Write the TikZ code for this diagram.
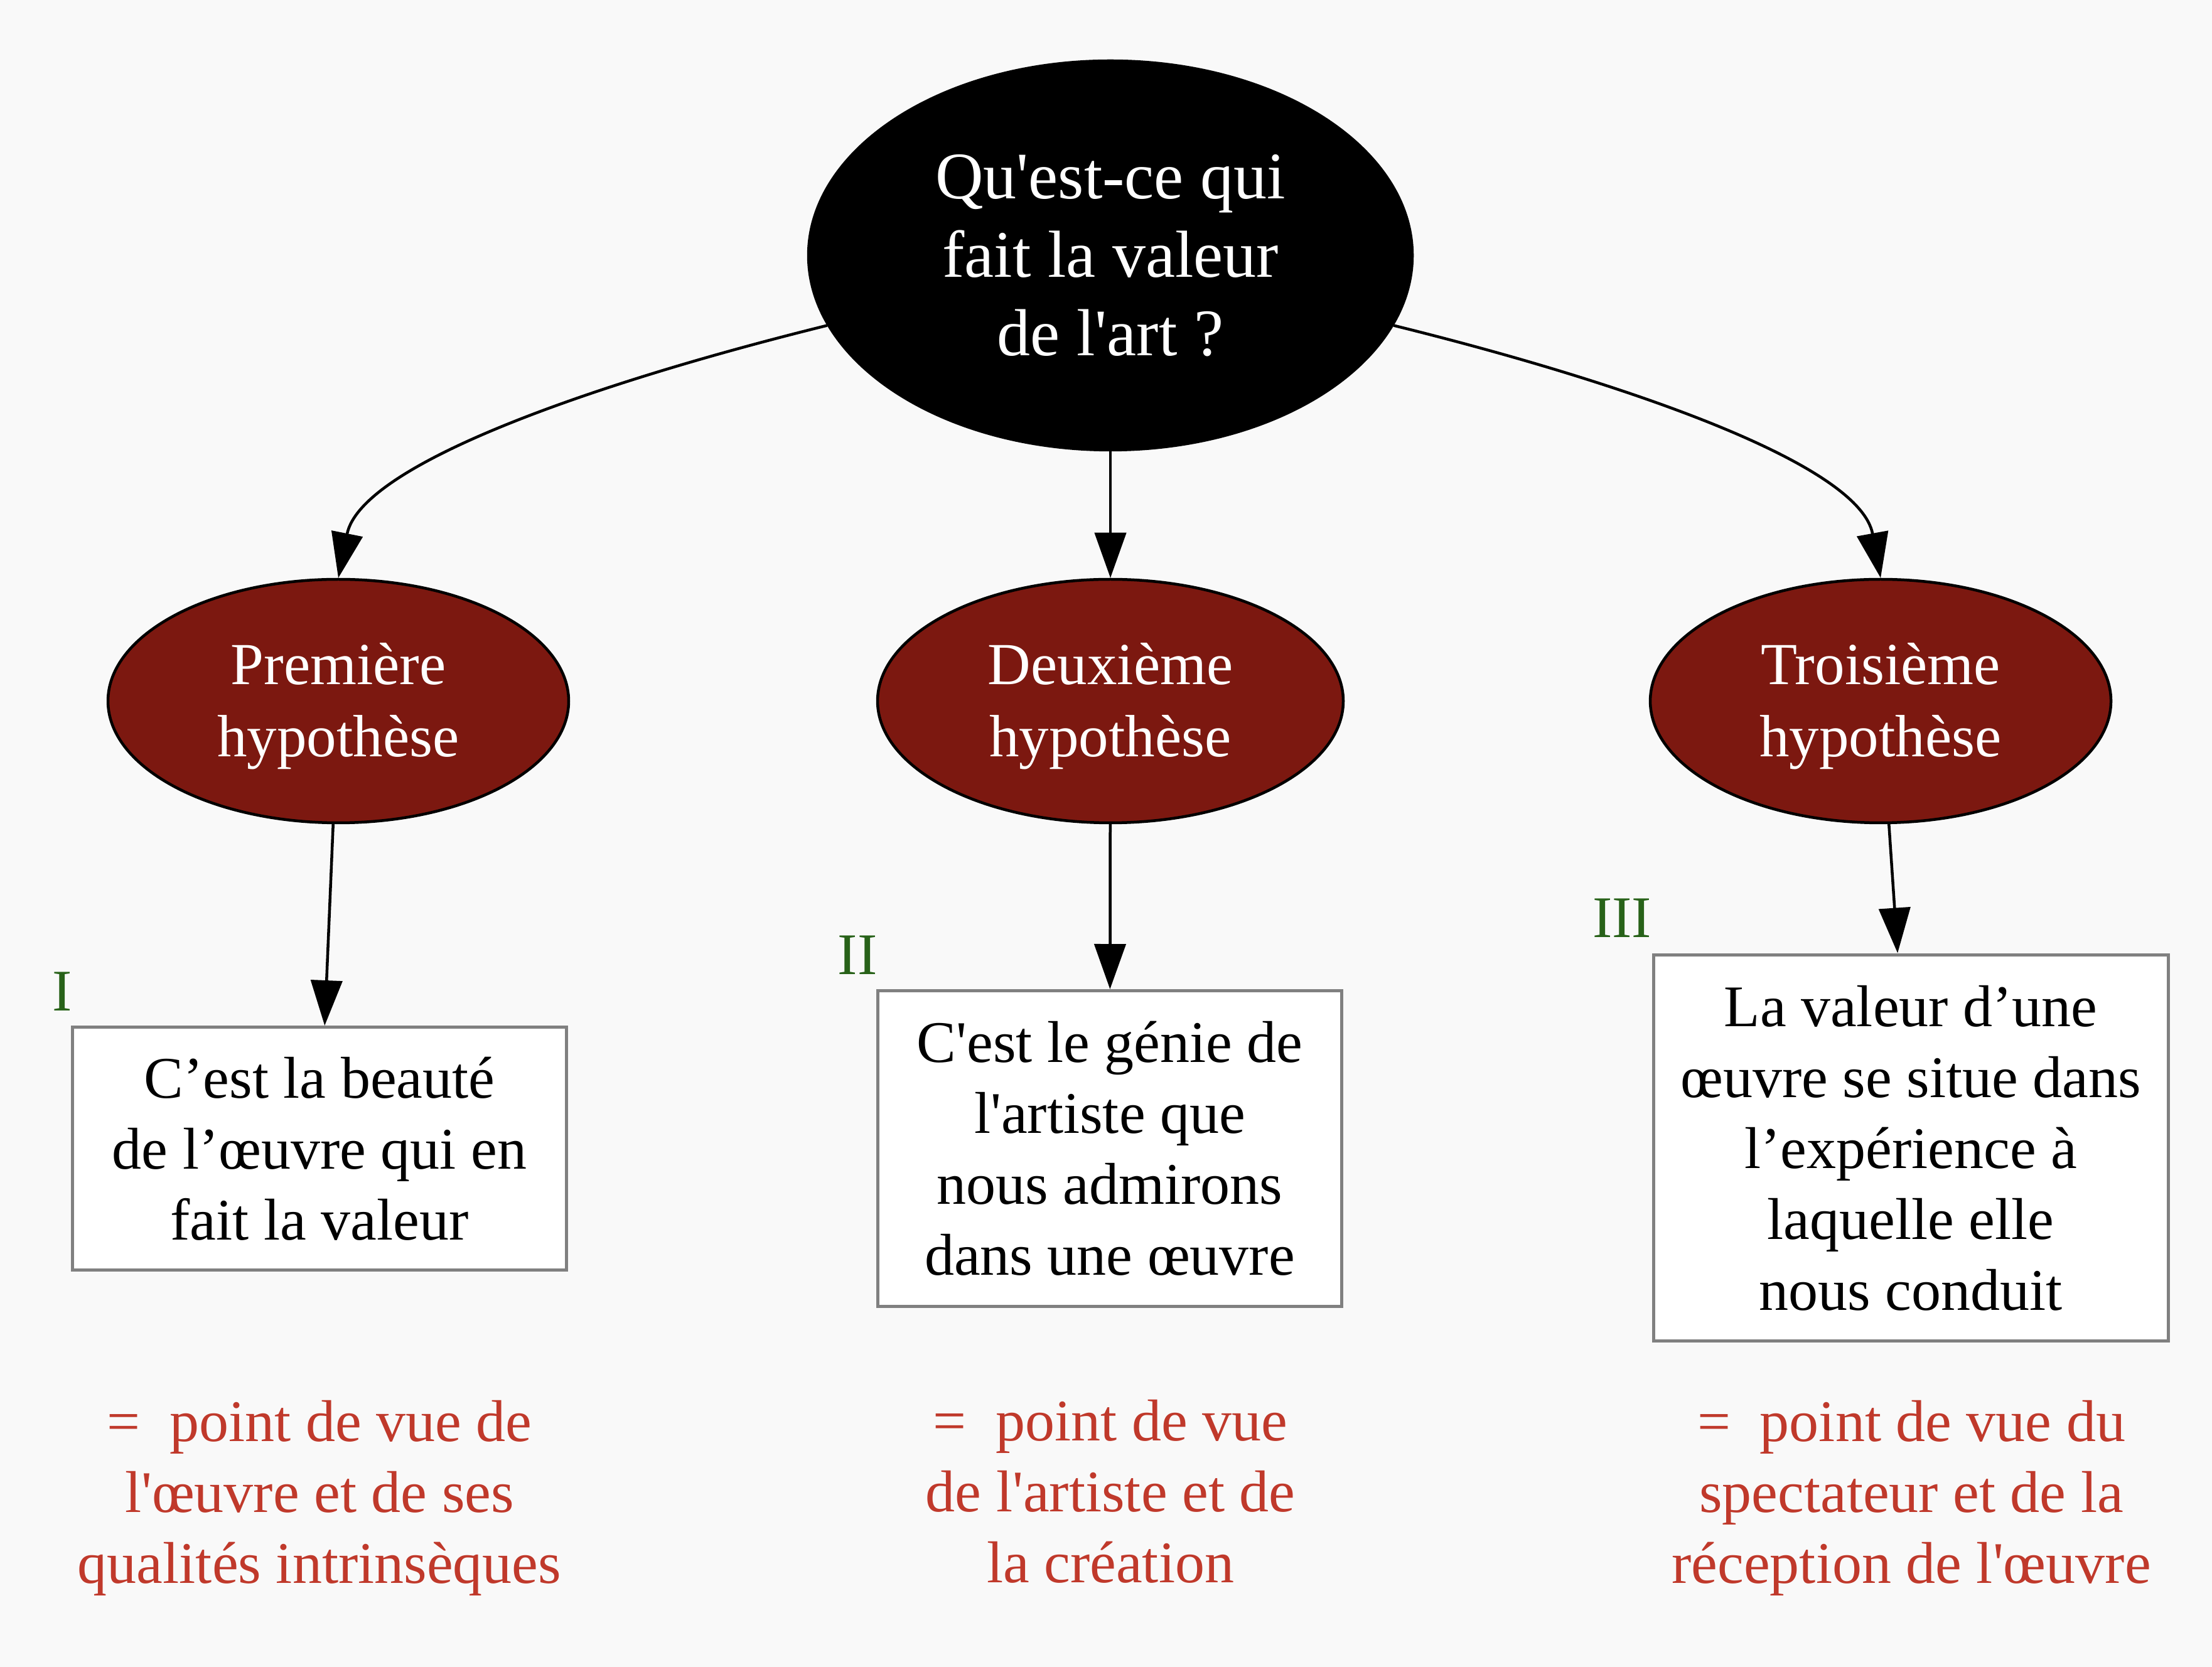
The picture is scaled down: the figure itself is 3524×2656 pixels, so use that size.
\documentclass[tikz,border=0pt]{standalone}
\usepackage{fontspec}
\setmainfont{Liberation Serif}[Ligatures=TeXOff]
\usetikzlibrary{shapes.geometric,arrows.meta}
\definecolor{bgc}{RGB}{249,249,249}
\definecolor{hypred}{RGB}{124,24,16}
\definecolor{numgreen}{RGB}{40,98,25}
\definecolor{notered}{RGB}{192,57,43}
\definecolor{boxgray}{RGB}{128,128,128}
\tikzset{
  topq/.style={ellipse, fill=black, draw=black, line width=0.45pt, inner sep=0pt,
    minimum width=96.2pt, minimum height=62pt, text=white, align=center,
    font=\fontsize{10.6}{12.5}\selectfont},
  hyp/.style={ellipse, fill=hypred, draw=black, line width=0.45pt, inner sep=0pt,
    minimum width=73.4pt, minimum height=38.8pt, text=white, align=center,
    font=\fontsize{9.5}{11.5}\selectfont},
  thesis/.style={rectangle, fill=white, draw=boxgray, line width=0.5pt, inner sep=0pt,
    align=center, font=\fontsize{9.4}{11.3}\selectfont},
  numlab/.style={text=numgreen, inner sep=0pt, font=\fontsize{9.4}{11.3}\selectfont},
  note/.style={text=notered, inner sep=0pt, align=center, font=\fontsize{9.4}{11.3}\selectfont},
  conn/.style={line width=0.45pt, -{Triangle[length=7.2pt,width=5pt]}}
}
\begin{document}
\begin{tikzpicture}[x=0.1pt,y=-0.1pt]
\path[fill=bgc] (0,0) rectangle (3524,2656);
\useasboundingbox (0,0) rectangle (3524,2656);

\node[topq] (q) at (1769,407) {Qu'est-ce qui\\fait la valeur\\de l'art ?};

\node[hyp] (p1) at (539,1117) {\rule{0pt}{8.2pt}Première\\hypothèse};
\node[hyp, minimum width=74.2pt] (p2) at (1769,1117) {\rule{0pt}{8.2pt}Deuxième\\hypothèse};
\node[hyp] (p3) at (2996,1117) {\rule{0pt}{8.2pt}Troisième\\hypothèse};

\node[thesis, minimum width=78.8pt, minimum height=38.7pt] (b1) at (509,1830)
  {C’est la beauté\\de l’œuvre qui en\\fait la valeur};
\node[thesis, minimum width=73.9pt, minimum height=50.3pt] (b2) at (1768,1830)
  {C'est le génie de\\l'artiste que\\nous admirons\\dans une œuvre};
\node[thesis, minimum width=82pt, minimum height=61.6pt] (b3) at (3044,1829)
  {La valeur d’une\\œuvre se situe dans\\l’expérience à\\laquelle elle\\nous conduit};

\node[numlab] (n1) at (99,1580) {I};
\node[numlab] (n2) at (1366,1522) {II};
\node[numlab] (n3) at (2584,1463) {III};

\node[note] (r1) at (509,2387) {=\ \ point de vue de\\l'œuvre et de ses\\qualités intrinsèques};
\node[note] (r2) at (1769,2376) {=\ \ point de vue\\de l'artiste et de\\la création};
\node[note] (r3) at (3045,2387) {=\ \ point de vue du\\spectateur et de la\\réception de l'œuvre};

\draw[conn] (q) .. controls (944,611) and (575,740) .. (p1.north);
\draw[conn] (q) .. controls (2594,611) and (2963,740) .. (p3.north);
\draw[conn] (q) -- (p2);
\draw[conn] (p1) -- (b1);
\draw[conn] (p2) -- (b2);
\draw[conn] (p3) -- (b3);
\end{tikzpicture}
\end{document}
